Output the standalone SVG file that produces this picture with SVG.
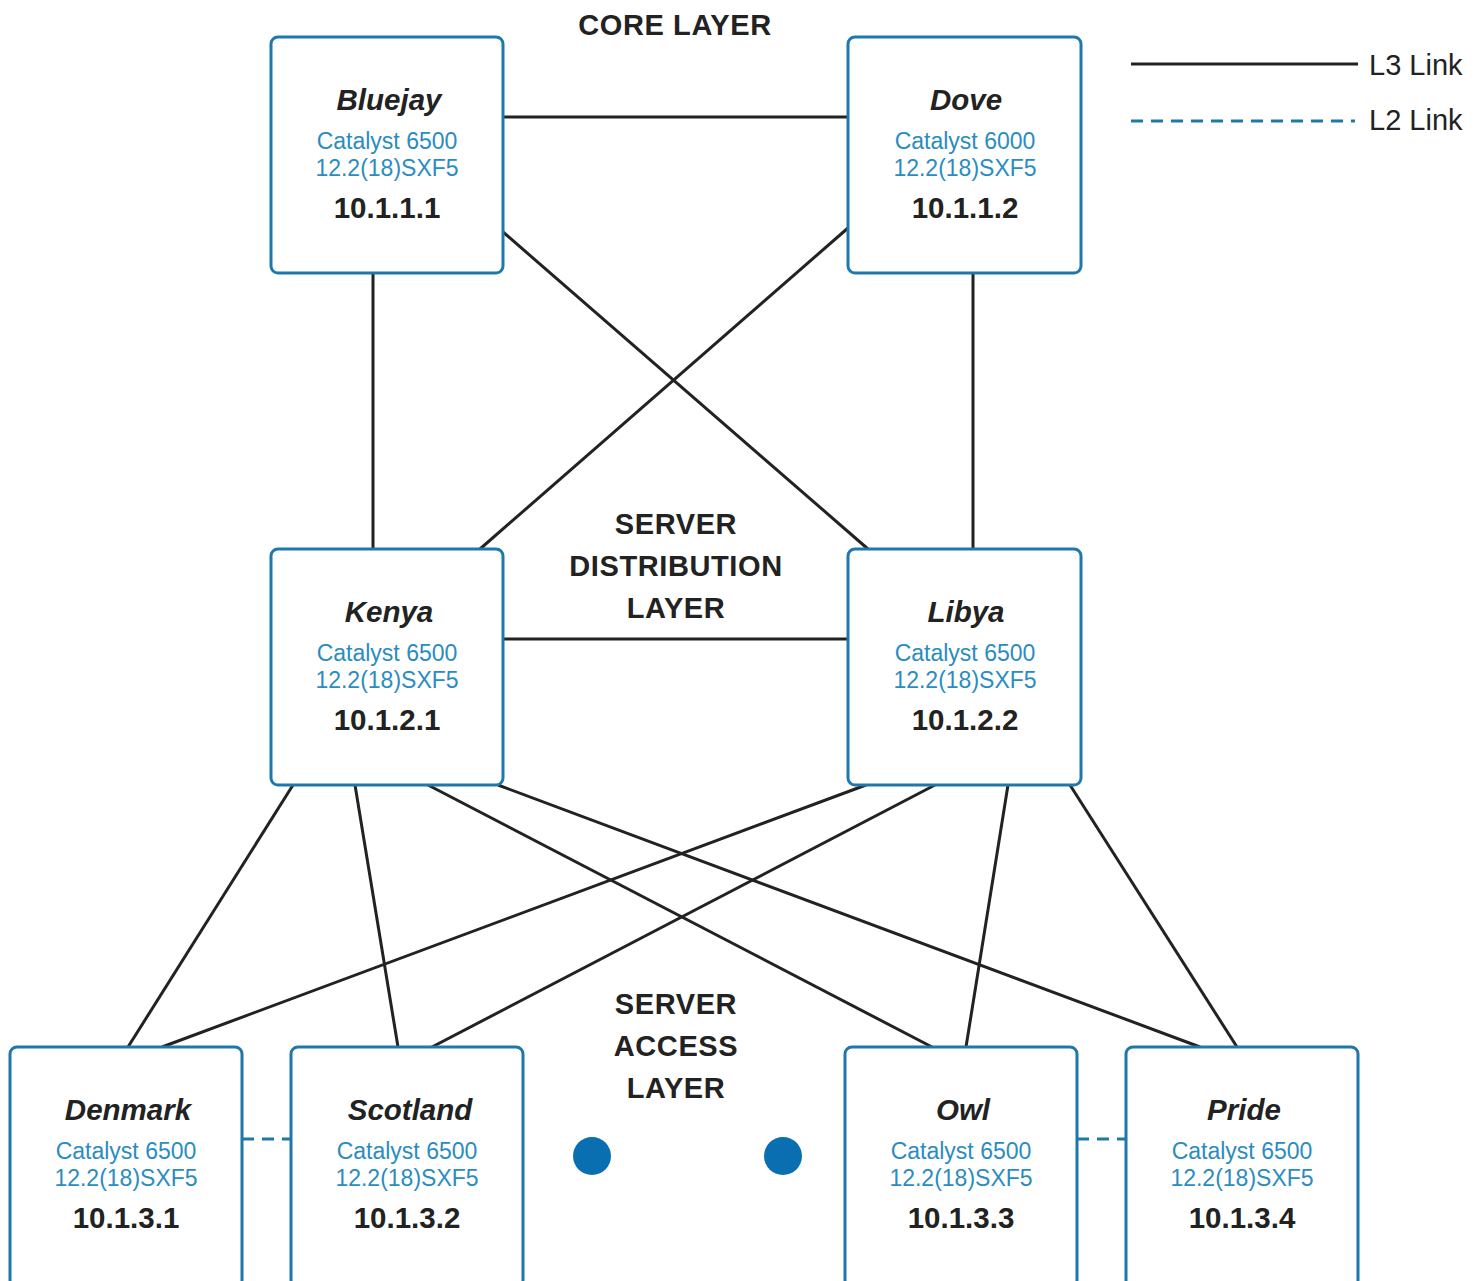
<svg xmlns="http://www.w3.org/2000/svg" width="1484" height="1281" viewBox="0 0 1484 1281">
<style>
.box{fill:#fff;stroke:#1f78aa;stroke-width:3}
.name{font-family:"Liberation Sans",Arial,sans-serif;font-size:29.5px;font-weight:bold;font-style:italic;fill:#222;text-anchor:middle}
.model{font-family:"Liberation Sans",Arial,sans-serif;font-size:23px;fill:#2b8cbf;text-anchor:middle}
.ip{font-family:"Liberation Sans",Arial,sans-serif;font-size:29.5px;font-weight:bold;fill:#222;text-anchor:middle}
.layer{font-family:"Liberation Sans",Arial,sans-serif;font-size:29px;font-weight:bold;fill:#222;text-anchor:middle;letter-spacing:0.6px}
.leg{font-family:"Liberation Sans",Arial,sans-serif;font-size:29px;fill:#222}
.l3{stroke:#222;stroke-width:3;fill:none}
.l2{stroke:#1f78aa;stroke-width:3;stroke-dasharray:12 8;fill:none}
.dot{fill:#0a6fb0}
</style>
<rect width="1484" height="1281" fill="#fff"/>
<g id="connectors">
<line class="l3" x1="503" y1="117" x2="848" y2="117"/>
<line class="l3" x1="373" y1="273" x2="373" y2="549"/>
<line class="l3" x1="973" y1="273" x2="973" y2="549"/>
<line class="l3" x1="503" y1="232" x2="868" y2="549"/>
<line class="l3" x1="848" y1="228" x2="480" y2="549"/>
<line class="l3" x1="503" y1="639" x2="848" y2="639"/>
<line class="l3" x1="293" y1="785" x2="128" y2="1047"/>
<line class="l3" x1="355" y1="785" x2="398" y2="1047"/>
<line class="l3" x1="428" y1="785" x2="932" y2="1047"/>
<line class="l3" x1="498" y1="785" x2="1200" y2="1047"/>
<line class="l3" x1="866" y1="785" x2="162" y2="1047"/>
<line class="l3" x1="935" y1="785" x2="432" y2="1047"/>
<line class="l3" x1="1008" y1="785" x2="966" y2="1047"/>
<line class="l3" x1="1070" y1="785" x2="1237" y2="1047"/>
<line class="l2" x1="242" y1="1139" x2="291" y2="1139"/>
<line class="l2" x1="1077" y1="1139" x2="1126" y2="1139"/>
</g>
<g id="legend">
<line class="l3" x1="1131" y1="64" x2="1358" y2="64"/>
<text class="leg" x="1369" y="75">L3 Link</text>
<line class="l2" x1="1131" y1="121" x2="1355" y2="121"/>
<text class="leg" x="1369" y="130">L2 Link</text>
</g>
<g id="labels">
<text class="layer" x="675" y="35">CORE LAYER</text>
<text class="layer" x="676" y="534">SERVER</text>
<text class="layer" x="676" y="576">DISTRIBUTION</text>
<text class="layer" x="676" y="618">LAYER</text>
<text class="layer" x="676" y="1014">SERVER</text>
<text class="layer" x="676" y="1056">ACCESS</text>
<text class="layer" x="676" y="1098">LAYER</text>
</g>
<g id="bluejay">
<rect class="box" x="271" y="37" width="232" height="236" rx="7"/>
<text class="name" x="389" y="110">Bluejay</text>
<text class="model" x="387" y="149">Catalyst 6500</text>
<text class="model" x="387" y="176">12.2(18)SXF5</text>
<text class="ip" x="387" y="218">10.1.1.1</text>
</g>
<g id="dove">
<rect class="box" x="848" y="37" width="233" height="236" rx="7"/>
<text class="name" x="966" y="110">Dove</text>
<text class="model" x="965" y="149">Catalyst 6000</text>
<text class="model" x="965" y="176">12.2(18)SXF5</text>
<text class="ip" x="965" y="218">10.1.1.2</text>
</g>
<g id="kenya">
<rect class="box" x="271" y="549" width="232" height="236" rx="7"/>
<text class="name" x="389" y="622">Kenya</text>
<text class="model" x="387" y="661">Catalyst 6500</text>
<text class="model" x="387" y="688">12.2(18)SXF5</text>
<text class="ip" x="387" y="730">10.1.2.1</text>
</g>
<g id="libya">
<rect class="box" x="848" y="549" width="233" height="236" rx="7"/>
<text class="name" x="966" y="622">Libya</text>
<text class="model" x="965" y="661">Catalyst 6500</text>
<text class="model" x="965" y="688">12.2(18)SXF5</text>
<text class="ip" x="965" y="730">10.1.2.2</text>
</g>
<g id="denmark">
<rect class="box" x="10" y="1047" width="232" height="240" rx="7"/>
<text class="name" x="128" y="1120">Denmark</text>
<text class="model" x="126" y="1159">Catalyst 6500</text>
<text class="model" x="126" y="1186">12.2(18)SXF5</text>
<text class="ip" x="126" y="1228">10.1.3.1</text>
</g>
<g id="scotland">
<rect class="box" x="291" y="1047" width="232" height="240" rx="7"/>
<text class="name" x="410" y="1120">Scotland</text>
<text class="model" x="407" y="1159">Catalyst 6500</text>
<text class="model" x="407" y="1186">12.2(18)SXF5</text>
<text class="ip" x="407" y="1228">10.1.3.2</text>
</g>
<g id="owl">
<rect class="box" x="845" y="1047" width="232" height="240" rx="7"/>
<text class="name" x="963" y="1120">Owl</text>
<text class="model" x="961" y="1159">Catalyst 6500</text>
<text class="model" x="961" y="1186">12.2(18)SXF5</text>
<text class="ip" x="961" y="1228">10.1.3.3</text>
</g>
<g id="pride">
<rect class="box" x="1126" y="1047" width="232" height="240" rx="7"/>
<text class="name" x="1244" y="1120">Pride</text>
<text class="model" x="1242" y="1159">Catalyst 6500</text>
<text class="model" x="1242" y="1186">12.2(18)SXF5</text>
<text class="ip" x="1242" y="1228">10.1.3.4</text>
</g>
<g id="dots">
<circle class="dot" cx="592" cy="1156" r="19"/>
<circle class="dot" cx="783" cy="1156" r="19"/>
</g>
</svg>
